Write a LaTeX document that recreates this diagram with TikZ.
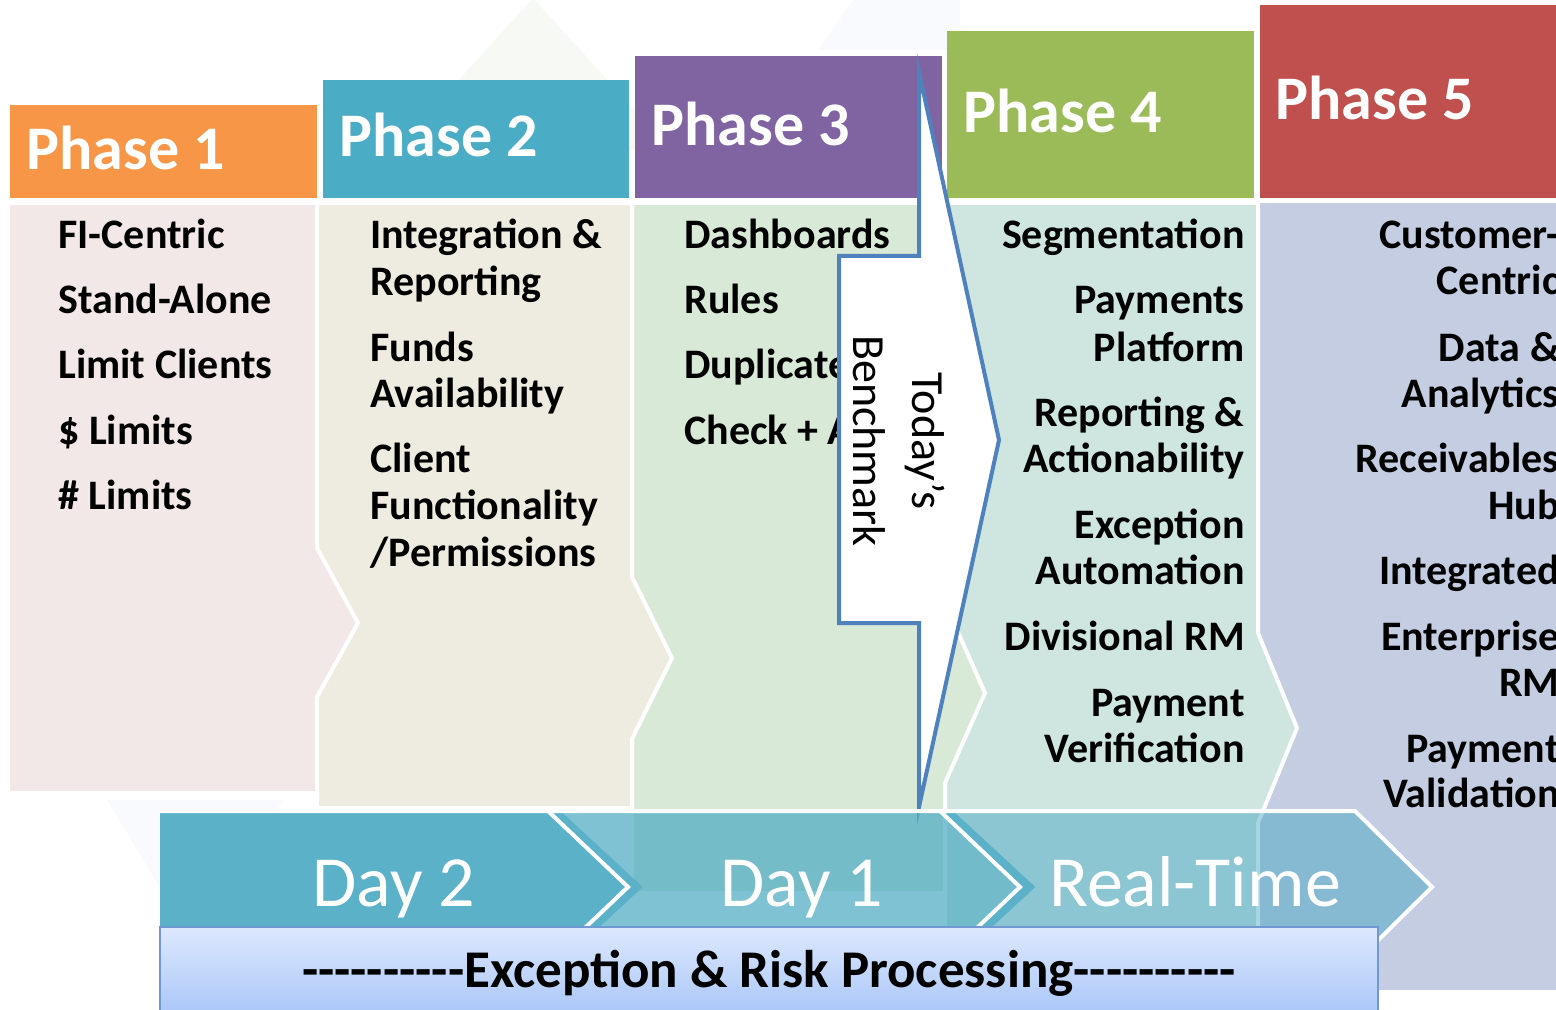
\documentclass[tikz,border=0pt]{standalone}
\usepackage{fontspec}
\setmainfont{Carlito}
\definecolor{hdrA}{HTML}{F79646}
\definecolor{hdrB}{HTML}{4BACC6}
\definecolor{hdrC}{HTML}{8064A2}
\definecolor{hdrD}{HTML}{9BBB59}
\definecolor{hdrE}{HTML}{C0504D}
\definecolor{bodyA}{HTML}{F2E8E7}
\definecolor{bodyB}{HTML}{EEECE1}
\definecolor{bodyC}{HTML}{D9E9D8}
\definecolor{bodyD}{HTML}{CEE5E0}
\definecolor{bodyE}{HTML}{C4CDE1}
\definecolor{benchBlue}{HTML}{4F81BD}
\definecolor{dayTwo}{HTML}{5AB1C8}
\definecolor{dayOne}{HTML}{54AEC5}
\definecolor{dayRT}{HTML}{3BA2C1}
\definecolor{boxTop}{HTML}{DDE8FD}
\definecolor{boxBot}{HTML}{A9C6F8}
\definecolor{boxLine}{HTML}{7099D4}
\definecolor{faintG}{HTML}{F7FAF4}
\definecolor{faintB}{HTML}{F8FAFD}
\newcommand\hy{\mbox{-}}
\newcommand\hyrun{\hy\hy\hy\hy\hy\hy\hy\hy\hy\hy}
\begin{document}
\begin{tikzpicture}[x=0.5pt,y=-0.5pt,
  hdrtext/.style={inner sep=0, anchor=base west, text=white,
    font=\fontsize{31}{31}\selectfont\bfseries},
  itemL/.style={inner sep=0, anchor=base west,
    font=\fontsize{21}{23}\selectfont\bfseries},
  itemR/.style={inner sep=0, anchor=base east,
    font=\fontsize{21}{23}\selectfont\bfseries},
  panel/.style={draw=white, line width=2pt, line join=miter},
  daytext/.style={inner sep=0, anchor=base, text=white,
    font=\fontsize{36}{36}\selectfont},
  chevline/.style={draw=white, line width=2pt, line join=miter},
]
\useasboundingbox (0,0) rectangle (1556,1010);
\begin{scope}
\clip (0,0) rectangle (1556,1010);

% faint backdrop shapes
\fill[faintG] (533,-2) -- (671,150) -- (395,150) -- cycle;
\fill[faintB] (853,0) -- (960,0) -- (960,50) -- (818,50) -- cycle;
\fill[faintB] (107,800) -- (283,800) -- (195,946) -- cycle;

% phase headers
\fill[hdrA] (10,105) rectangle (317,198);
\fill[hdrB] (323,80) rectangle (629,198);
\fill[hdrC] (635,56) rectangle (942,198);
\fill[hdrD] (947,31) rectangle (1254,198);
\fill[hdrE] (1260,5) rectangle (1570,198);
\node[hdrtext] (h1) at (26,170) {Phase 1};
\node[hdrtext] (h2) at (339,157) {Phase 2};
\node[hdrtext] (h3) at (651,146) {Phase 3};
\node[hdrtext] (h4) at (963,133) {Phase 4};
\node[hdrtext] (h5) at (1275,120) {Phase 5};

% phase bodies, back to front
\fill[bodyE] (1250,203) rectangle (1570,990);
\filldraw[panel, fill=bodyD] (945,203) -- (1258,203) -- (1258,633) -- (1297,728)
  -- (1258,823) -- (1258,930) -- (945,930) -- cycle;
\filldraw[panel, fill=bodyC] (632,203) -- (945,203) -- (945,603) -- (985,693)
  -- (945,783) -- (945,893) -- (632,893) -- cycle;
\filldraw[panel, fill=bodyB] (317,203) -- (632,203) -- (632,577) -- (672,658)
  -- (632,739) -- (632,808) -- (317,808) -- cycle;
\filldraw[panel, fill=bodyA] (8,203) -- (317,203) -- (317,548) -- (358,623)
  -- (317,697) -- (317,793) -- (8,793) -- cycle;

% phase 1 items
\node[itemL] (a1) at (58,249) {FI-Centric};
\node[itemL] (a2) at (58,314) {Stand-Alone};
\node[itemL] (a3) at (58,379) {Limit Clients};
\node[itemL] (a4) at (58,444) {\$ Limits};
\node[itemL] (a5) at (58,509) {\# Limits};

% phase 2 items
\node[itemL] (b1) at (370,249) {Integration \&};
\node[itemL] (b1b) at (370,296) {Reporting};
\node[itemL] (b2) at (370,361) {Funds};
\node[itemL] (b2b) at (370,407) {Availability};
\node[itemL] (b3) at (370,472) {Client};
\node[itemL] (b3b) at (370,519) {Functionality};
\node[itemL] (b3c) at (370,566) {/Permissions};

% phase 3 items
\node[itemL] (c1) at (684,249) {Dashboards};
\node[itemL] (c2) at (684,314) {Rules};
\node[itemL] (c3) at (684,379) {Duplicates};
\node[itemL] (c4) at (684,444) {Check + ACH};

% phase 4 items
\node[itemR] (d1) at (1245,249) {Segmentation};
\node[itemR] (d2) at (1245,314) {Payments};
\node[itemR] (d2b) at (1245,361) {Platform};
\node[itemR] (d3) at (1245,426) {Reporting \&};
\node[itemR] (d3b) at (1245,472) {Actionability};
\node[itemR] (d4) at (1245,538) {Exception};
\node[itemR] (d4b) at (1245,584) {Automation};
\node[itemR] (d5) at (1245,650) {Divisional RM};
\node[itemR] (d6) at (1245,716) {Payment};
\node[itemR] (d6b) at (1245,762) {Verification};

% phase 5 items
\node[itemR] (e1) at (1560,249) {Customer-};
\node[itemR] (e1b) at (1560,295) {Centric};
\node[itemR] (e2) at (1560,361) {Data \&};
\node[itemR] (e2b) at (1560,407) {Analytics};
\node[itemR] (e3) at (1560,472) {Receivables};
\node[itemR] (e3b) at (1560,519) {Hub};
\node[itemR] (e4) at (1560,584) {Integrated};
\node[itemR] (e5) at (1560,650) {Enterprise};
\node[itemR] (e5b) at (1560,696) {RM};
\node[itemR] (e6) at (1560,762) {Payment};
\node[itemR] (e6b) at (1560,807) {Validation};

% today's benchmark marker
\filldraw[fill=white, draw=benchBlue, line width=2pt, line join=miter]
  (919,72) -- (919,256) -- (839,256) -- (839,623) -- (919,623) -- (919,807)
  -- (999,440) -- cycle;
\node[inner sep=0, rotate=-90, align=center,
  font=\fontsize{23}{29.5}\selectfont] (bench) at (899,441) {Today’s\\Benchmark};

% timing arrows
\fill[dayTwo] (160,813) -- (563,813) -- (643,887) -- (563,961) -- (160,961) -- cycle;
\fill[dayOne, fill opacity=0.75] (563,813) -- (955,813) -- (1035,887) -- (955,961)
  -- (563,961) -- (643,887) -- cycle;
\fill[dayTwo] (940,813) -- (955,813) -- (1035,887) -- (955,961) -- (940,961)
  -- (1020,887) -- cycle;
\fill[dayRT, fill opacity=0.45] (955,813) -- (1355,813) -- (1432,887) -- (1355,961)
  -- (955,961) -- (1035,887) -- cycle;
\draw[chevline] (160,811) -- (1355,811) -- (1432,887) -- (1355,963);
\draw[chevline] (548,811) -- (628,887) -- (548,963);
\draw[chevline] (940,811) -- (1020,887) -- (940,963);
\node[daytext] (t2) at (394,906) {Day 2};
\node[daytext] (t1) at (802,906) {Day 1};
\node[daytext] (trt) at (1195,906) {Real-Time};

% exception and risk band
\path[draw=boxLine, line width=1pt, top color=boxTop, bottom color=boxBot]
  (160,927) rectangle (1378,1016);
\node[inner sep=0, anchor=base, font=\fontsize{26.5}{26.5}\selectfont\bfseries]
  (exc) at (769,987) {\hyrun Exception \& Risk Processing\hyrun};
\end{scope}
\end{tikzpicture}
\end{document}
